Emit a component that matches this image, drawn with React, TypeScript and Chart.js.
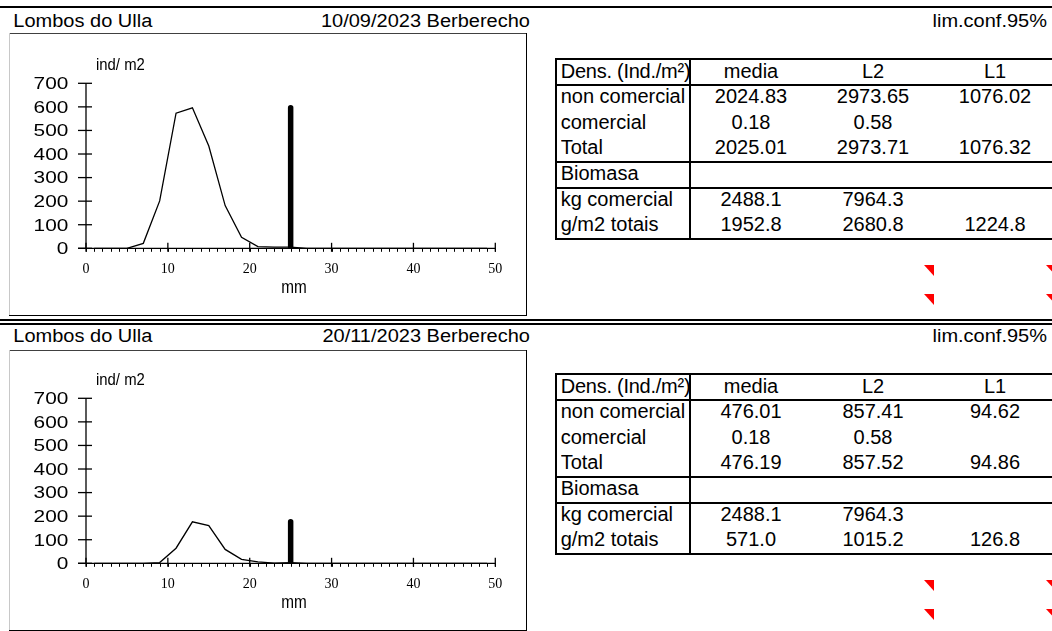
import React, { useEffect, useRef } from "react";
import { Chart, registerables } from "chart.js";

Chart.register(...registerables);

// ---------- DATA ----------
const siteName = "Lombos do Ulla";
const sampleTitles = ["10/09/2023 Berberecho", "20/11/2023 Berberecho"];
const confLabel = "lim.conf.95%";

const sizeClasses = [1, 3, 5, 7, 9, 11, 13, 15, 17, 19, 21, 23, 25, 27, 29, 31, 33, 35, 37, 39, 41, 43, 45, 47, 49];
const densSep = [0, 0, 0, 21, 201, 573, 596, 434, 181, 47, 7, 5, 5, 0, 0, 0, 0, 0, 0, 0, 0, 0, 0, 0, 0];
const densNov = [0, 0, 0, 0, 3, 64, 176, 160, 59, 17, 6, 1, 3, 0, 0, 0, 0, 0, 0, 0, 0, 0, 0, 0, 0];

const commercialSizeX = [25, 25];
const commercialBarSep = [0, 596];
const commercialBarNov = [0, 176];

const xTicks = [0, 10, 20, 30, 40, 50];
const yTicks = [0, 100, 200, 300, 400, 500, 600, 700];
const yAxisTitle = "ind/ m2";
const xAxisTitle = "mm";

const tableHeader = ["Dens. (Ind./m²)", "media", "L2", "L1"];
const rowLabels = ["non comercial", "comercial", "Total", "Biomasa", "kg comercial", "g/m2 totais"];
const tableSep = [
  ["2024.83", "2973.65", "1076.02"],
  ["0.18", "0.58", ""],
  ["2025.01", "2973.71", "1076.32"],
  ["", "", ""],
  ["2488.1", "7964.3", ""],
  ["1952.8", "2680.8", "1224.8"],
];
const tableNov = [
  ["476.01", "857.41", "94.62"],
  ["0.18", "0.58", ""],
  ["476.19", "857.52", "94.86"],
  ["", "", ""],
  ["2488.1", "7964.3", ""],
  ["571.0", "1015.2", "126.8"],
];

// ---------- helpers ----------
const SANS = "'Liberation Sans', Arial, sans-serif";

function Txt(props: any) {
  const { x, base, text, size = 20, align = "left", w = 300, sx = 1, sy = 1, clipW, ls } = props;
  const baseOff = 0.8465 * size;
  let left = x;
  if (align === "center") left = x - w / 2;
  if (align === "right") left = x - w;
  const originX = align === "center" ? "50%" : align === "right" ? "100%" : "0";
  return (
    <div
      style={{
        position: "absolute",
        left,
        top: base - baseOff,
        width: clipW !== undefined ? clipW : w,
        height: size + 4,
        overflow: clipW !== undefined ? "hidden" : "visible",
        lineHeight: size + "px",
        fontSize: size,
        fontFamily: SANS,
        textAlign: align,
        whiteSpace: "nowrap",
        letterSpacing: ls !== undefined ? ls : "normal",
        color: "#000",
        transform: `scale(${sx},${sy})`,
        transformOrigin: `${originX} ${baseOff}px`,
      }}
    >
      {text}
    </div>
  );
}

function HL({ x1, x2, y, t = 2, c = "#000" }: any) {
  return <div style={{ position: "absolute", left: x1, top: y - t / 2, width: x2 - x1, height: t, background: c }} />;
}
function VL({ x, y1, y2, t = 2, c = "#000" }: any) {
  return <div style={{ position: "absolute", left: x - t / 2, top: y1, width: t, height: y2 - y1, background: c }} />;
}
function Tri({ x, y }: any) {
  return (
    <div
      style={{
        position: "absolute",
        left: x,
        top: y,
        width: 0,
        height: 0,
        borderTop: "11px solid #ff0000",
        borderLeft: "10px solid transparent",
      }}
    />
  );
}

const axisPlugin = {
  id: "excelAxes",
  beforeDatasetsDraw(chart: any) {
    const ctx = chart.ctx;
    const xs = chart.scales.x;
    const ys = chart.scales.y;
    const x0 = xs.getPixelForValue(xTicks[0]);
    const x1 = xs.getPixelForValue(xTicks[xTicks.length - 1]);
    const y0 = ys.getPixelForValue(yTicks[0]);
    const y1 = ys.getPixelForValue(yTicks[yTicks.length - 1]);
    ctx.save();
    ctx.strokeStyle = "#000";
    ctx.fillStyle = "#000";
    ctx.lineWidth = 1.3;
    const ln = (a: number, b: number, c: number, d: number) => {
      ctx.beginPath();
      ctx.moveTo(a, b);
      ctx.lineTo(c, d);
      ctx.stroke();
    };
    ln(x0, y0, x0, y1);
    ln(x0 - 8, y0, x1, y0);
    yTicks.forEach((v) => {
      const y = ys.getPixelForValue(v);
      ln(x0 - 8, y, x0 + 6, y);
    });
    xTicks.forEach((v) => {
      const x = xs.getPixelForValue(v);
      ln(x, y0 - 5.5, x, y0 + 3.5);
    });
    ctx.lineWidth = 1;
    for (let v = xTicks[0]; v <= xTicks[xTicks.length - 1]; v += 1) {
      const x = Math.round(xs.getPixelForValue(v)) + 0.5;
      ln(x, y0, x, y0 + 3.5);
    }
    // y labels (wide)
    ctx.font = "16px " + SANS;
    ctx.textAlign = "right";
    ctx.textBaseline = "alphabetic";
    yTicks.forEach((v) => {
      const y = ys.getPixelForValue(v);
      ctx.save();
      ctx.translate(x0 - 17.7, y + 5.8);
      ctx.scale(1.3, 1);
      ctx.fillText(String(v), 0, 0);
      ctx.restore();
    });
    // x labels (serif)
    ctx.font = "14px 'Liberation Serif', 'Times New Roman', serif";
    ctx.textAlign = "center";
    xTicks.forEach((v) => {
      const x = xs.getPixelForValue(v);
      ctx.fillText(String(v), x, y0 + 24.3);
    });
    // axis titles
    ctx.save();
    ctx.font = "16px " + SANS;
    ctx.textAlign = "left";
    ctx.translate(x0 + 10, y1 - 13.3);
    ctx.scale(0.93, 1);
    ctx.fillText(yAxisTitle, 0, 0);
    ctx.restore();
    ctx.save();
    ctx.font = "18px " + SANS;
    ctx.textAlign = "center";
    ctx.translate(xs.left + 208, y0 + 45);
    ctx.scale(0.85, 1);
    ctx.fillText(xAxisTitle, 0, 0);
    ctx.restore();
    ctx.restore();
  },
};

function SizeChart({ dens, bar, top }: any) {
  const ref = useRef<HTMLCanvasElement>(null);
  useEffect(() => {
    if (!ref.current) return;
    const chart = new Chart(ref.current, {
      type: "line",
      data: {
        datasets: [
          {
            data: sizeClasses.map((x, i) => ({ x, y: dens[i] })),
            borderColor: "#000",
            borderWidth: 1.3,
            pointRadius: 0,
            tension: 0,
            fill: false,
          },
          {
            data: commercialSizeX.map((x, i) => ({ x, y: bar[i] })),
            borderColor: "#000",
            borderWidth: 5.5,
            borderCapStyle: "round",
            pointRadius: 0,
            fill: false,
          },
        ],
      },
      options: {
        animation: false,
        responsive: false,
        devicePixelRatio: 1,
        events: [],
        layout: { padding: { left: 0, top: 49.3, right: 29.7, bottom: 0 } },
        plugins: { legend: { display: false }, tooltip: { enabled: false }, title: { display: false } },
        scales: {
          x: {
            type: "linear",
            min: 0,
            max: 50,
            grid: { display: false },
            border: { display: false },
            ticks: { display: false },
            afterFit(s: any) {
              s.height = 66.7;
            },
          },
          y: {
            type: "linear",
            min: 0,
            max: 700,
            grid: { display: false },
            border: { display: false },
            ticks: { display: false, stepSize: 100 },
            afterFit(s: any) {
              s.width = 76;
            },
          },
        },
      } as any,
      plugins: [axisPlugin],
    });
    return () => chart.destroy();
  }, [dens, bar]);
  return (
    <canvas
      ref={ref}
      width={515}
      height={281}
      style={{ position: "absolute", left: 10, top, width: 515, height: 281 }}
    />
  );
}

function Panel({ dy, title, dens, bar, table }: any) {
  const rowTops = [85.3, 110.8, 136.3, 162.3, 187.7, 213.2];
  const colCenters = [751, 873, 995];
  const hdrBase = 26.7 + dy;
  return (
    <>
      <Txt x={13.3} base={hdrBase} text={siteName} size={20} sy={0.9} />
      <Txt x={530} base={hdrBase} text={title} size={20} sy={0.9} align="right" w={260} />
      <Txt x={1047} base={hdrBase} text={confLabel} size={20} sy={0.9} align="right" w={200} />

      {/* chart frame */}
      <HL x1={9} x2={527} y={33.5 + dy + (dy ? 2 : 0)} t={1} c="#404040" />
      <VL x={9.5} y1={33 + dy + (dy ? 2 : 0)} y2={316 + dy} t={1} c="#c8c8c8" />
      <VL x={526.5} y1={33 + dy + (dy ? 2 : 0)} y2={316 + dy} t={1.6} c="#000" />
      <HL x1={9} x2={527.3} y={315.7 + dy} t={1.2} c="#000" />

      <SizeChart dens={dens} bar={bar} top={34 + dy} />

      {/* table lines */}
      {[59.3, 85.3, 162.3, 187.7, 239.3].map((y, i) => (
        <HL key={"h" + i} x1={555} x2={1052} y={y + dy} t={2} />
      ))}
      <VL x={556} y1={58.3 + dy} y2={240.3 + dy} t={2} />

      {/* header row */}
      <Txt x={560.7} base={77.5 + dy} text={tableHeader[0]} size={20} clipW={131} w={300} ls={-0.25} />
      {colCenters.map((cx, i) => (
        <Txt key={"hc" + i} x={cx} base={77.5 + dy} text={tableHeader[i + 1]} size={20} align="center" w={120} />
      ))}
      {rowLabels.map((lab, r) => (
        <React.Fragment key={"r" + r}>
          <Txt x={560.7} base={rowTops[r] + 18 + dy} text={lab} size={20} clipW={129} w={300} />
          {table[r].map((v: string, c: number) =>
            v ? (
              <Txt key={"c" + c} x={colCenters[c]} base={rowTops[r] + 18 + dy} text={v} size={20} align="center" w={120} />
            ) : null
          )}
        </React.Fragment>
      ))}
      <VL x={690} y1={58.3 + dy} y2={240.3 + dy} t={2} />

      <Tri x={924} y={265 + dy} />
      <Tri x={1046} y={265 + dy} />
      <Tri x={924} y={294 + dy} />
      <Tri x={1046} y={294 + dy} />
    </>
  );
}

export default function App() {
  return (
    <div
      style={{
        position: "fixed",
        left: 0,
        top: 0,
        width: 1052,
        height: 631,
        overflow: "hidden",
        background: "#fff",
      }}
    >
      <HL x1={0} x2={1052} y={7} t={2} />
      <HL x1={0} x2={1052} y={320} t={1.2} />
      <HL x1={0} x2={1052} y={323.5} t={2} />
      <Panel dy={0} title={sampleTitles[0]} dens={densSep} bar={commercialBarSep} table={tableSep} />
      <Panel dy={315} title={sampleTitles[1]} dens={densNov} bar={commercialBarNov} table={tableNov} />
    </div>
  );
}
